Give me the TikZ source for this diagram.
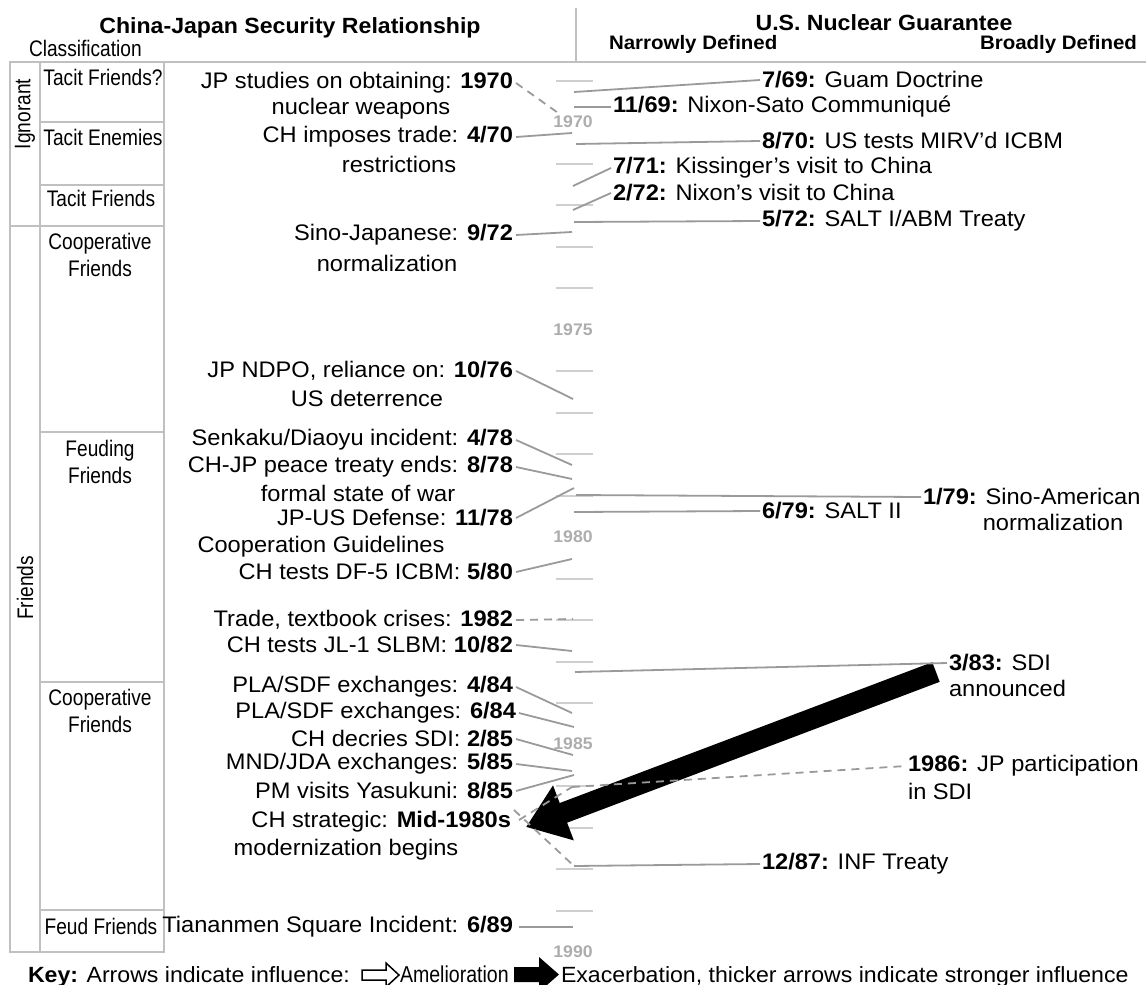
\documentclass[tikz,border=0pt]{standalone}
\usepackage{fontspec}
\setmainfont{Liberation Sans}[FakeStretch=1.05]
\newfontfamily\narrowfont{Liberation Sans}[FakeStretch=0.85]
\usetikzlibrary{arrows.meta,calc}
\definecolor{tablegray}{HTML}{C0C0C0}
\definecolor{tickgray}{HTML}{CFCFCF}
\definecolor{linkgray}{HTML}{9A9A9A}
\definecolor{yeargray}{HTML}{ADADAD}
\begin{document}
\begin{tikzpicture}[x=1pt,y=-1pt,
  every node/.style={inner sep=0pt,outer sep=0pt},
  ev/.style={font=\fontsize{22.5}{26}\selectfont},
  keytxt/.style={font=\fontsize{22}{25}\selectfont},
  lab/.style={font=\narrowfont\fontsize{22.5}{27}\selectfont,align=center},
  head/.style={font=\bfseries\fontsize{22}{25}\selectfont},
  subhead/.style={font=\bfseries\fontsize{19.5}{22}\selectfont},
  yearlab/.style={font=\bfseries\fontsize{16.8}{18}\selectfont,text=yeargray},
  tbl/.style={draw=tablegray,line width=2},
  tickline/.style={draw=tickgray,line width=2},
  link/.style={draw=linkgray,line width=1.8},
  dlink/.style={link,dash pattern=on 8pt off 6pt},
  bigarrow/.style={line width=21,-{Triangle[length=40pt,width=56pt]}}
]
\useasboundingbox (0,0) rectangle (1146,985);

% ---------- header ----------
\node[head] (title) at (290,28) {China-Japan Security Relationship};
\node[lab,anchor=west] (classif) at (29,48) {Classification};
\draw[tbl] (576,8) -- (576,62);
\draw[tbl] (10,62) -- (1146,62);
\node[head] (usng) at (884,23) {U.S. Nuclear Guarantee};
\node[subhead,anchor=west] (narrow) at (609,44) {Narrowly Defined};
\node[subhead,anchor=east] (broad) at (1137,44) {Broadly Defined};

% ---------- classification table ----------
\draw[tbl] (10,62) rectangle (164,952);
\draw[tbl] (40,62) -- (40,952);
\draw[tbl] (40,122) -- (164,122);
\draw[tbl] (40,185) -- (164,185);
\draw[tbl] (10,226) -- (164,226);
\draw[tbl] (40,432) -- (164,432);
\draw[tbl] (40,682) -- (164,682);
\draw[tbl] (40,910) -- (164,910);
\node[lab,rotate=90] (ignorant) at (25,114) {Ignorant};
\node[lab,rotate=90] (friends) at (25,588) {Friends};
\node[lab] (r1) at (103,77) {Tacit Friends?};
\node[lab] (r2) at (103,137) {Tacit Enemies};
\node[lab] (r3) at (101,198) {Tacit Friends};
\node[lab] (r4) at (100,255) {Cooperative\\Friends};
\node[lab] (r5) at (100,462) {Feuding\\Friends};
\node[lab] (r6) at (100,711) {Cooperative\\Friends};
\node[lab] (r7) at (101,926) {Feud Friends};

% ---------- timeline ----------
\foreach \yr in {1969,1971,1972,1973,1974,1976,1977,1978,1979,1981,1982,1983,1984,1986,1987,1988,1989}
  \draw[tickline] (556,{122+(\yr-1970)*41.5}) -- (593,{122+(\yr-1970)*41.5});
\node[yearlab] (y1970) at (573,122) {1970};
\node[yearlab] (y1975) at (573,330) {1975};
\node[yearlab] (y1980) at (573,537) {1980};
\node[yearlab] (y1985) at (573,744) {1985};
\node[yearlab] (y1990) at (573,952) {1990};

% timeline points
\coordinate (pJPstudy) at (561,115);
\coordinate (p0470) at (572,133);
\coordinate (p0972) at (572,232);
\coordinate (p1076) at (573,399);
\coordinate (p0478) at (572,465);
\coordinate (p0878) at (572,479);
\coordinate (p1178) at (574,488);
\coordinate (p0580) at (572,559);
\coordinate (p1982) at (573,619);
\coordinate (p1082) at (572,651);
\coordinate (p0484) at (572,713);
\coordinate (p0684) at (574,727);
\coordinate (p0285) at (573,755);
\coordinate (p0585) at (572,771);
\coordinate (p0885) at (574,775);
\coordinate (pMidA) at (572,787);
\coordinate (pMidB) at (574,866);
\coordinate (p0689) at (573,927);
\coordinate (p0769) at (574,92);
\coordinate (p1169) at (574,107);
\coordinate (p0870) at (576,144);
\coordinate (p0771) at (573,186);
\coordinate (p0272) at (573,210);
\coordinate (p0572) at (574,222);
\coordinate (p0179) at (576,495);
\coordinate (p0679) at (574,512);
\coordinate (p0383) at (575,672);
\coordinate (p1986) at (572,787);
\coordinate (p1287) at (574,866);

% ---------- left events ----------
\node[ev,anchor=east] (e1) at (513,83) {JP studies on obtaining: \textbf{1970}};
\node[ev] (e1b) at (361,109) {nuclear weapons};
\node[ev,anchor=east] (e2) at (513,137) {CH imposes trade: \textbf{4/70}};
\node[ev] (e2b) at (399,164) {restrictions};
\node[ev,anchor=east] (e3) at (513,235) {Sino-Japanese: \textbf{9/72}};
\node[ev] (e3b) at (387,263) {normalization};
\node[ev,anchor=east] (e4) at (513,371) {JP NDPO, reliance on: \textbf{10/76}};
\node[ev] (e4b) at (367,398) {US deterrence};
\node[ev,anchor=east] (e5) at (513,440) {Senkaku/Diaoyu incident: \textbf{4/78}};
\node[ev,anchor=east] (e6) at (513,467) {CH-JP peace treaty ends: \textbf{8/78}};
\node[ev] (e6b) at (358,493) {formal state of war};
\node[ev,anchor=east] (e7) at (513,518) {JP-US Defense: \textbf{11/78}};
\node[ev] (e7b) at (321,547) {Cooperation Guidelines};
\node[ev,anchor=east] (e8) at (513,572) {CH tests DF-5 ICBM: \textbf{5/80}};
\node[ev,anchor=east] (e9) at (513,620) {Trade, textbook crises: \textbf{1982}};
\node[ev,anchor=east] (e10) at (513,645) {CH tests JL-1 SLBM: \textbf{10/82}};
\node[ev,anchor=east] (e11) at (513,687) {PLA/SDF exchanges: \textbf{4/84}};
\node[ev,anchor=east] (e12) at (516,713) {PLA/SDF exchanges: \textbf{6/84}};
\node[ev,anchor=east] (e13) at (513,739) {CH decries SDI: \textbf{2/85}};
\node[ev,anchor=east] (e14) at (513,764) {MND/JDA exchanges: \textbf{5/85}};
\node[ev,anchor=east] (e15) at (513,791) {PM visits Yasukuni: \textbf{8/85}};
\node[ev,anchor=east] (e16) at (511,822) {CH strategic: \textbf{Mid-1980s}};
\node[ev] (e16b) at (346,850) {modernization begins};
\node[ev,anchor=east] (e17) at (513,927) {Tiananmen Square Incident: \textbf{6/89}};

% ---------- right events ----------
\node[ev,anchor=west] (u1) at (762,80) {\textbf{7/69:} Guam Doctrine};
\node[ev,anchor=west] (u2) at (613,107) {\textbf{11/69:} Nixon-Sato Communiqué};
\node[ev,anchor=west] (u3) at (762,141) {\textbf{8/70:} US tests MIRV’d ICBM};
\node[ev,anchor=west] (u4) at (613,168) {\textbf{7/71:} Kissinger’s visit to China};
\node[ev,anchor=west] (u5) at (613,193) {\textbf{2/72:} Nixon’s visit to China};
\node[ev,anchor=west] (u6) at (762,221) {\textbf{5/72:} SALT I/ABM Treaty};
\node[ev,anchor=west] (u7) at (923,497) {\textbf{1/79:} Sino-American};
\node[ev] (u7b) at (1053,522) {normalization};
\node[ev,anchor=west] (u8) at (762,511) {\textbf{6/79:} SALT II};
\node[ev,anchor=west] (u9) at (949,663) {\textbf{3/83:} SDI};
\node[ev,anchor=west] (u9b) at (949,688) {announced};
\node[ev,anchor=west] (u10) at (908,766) {\textbf{1986:} JP participation};
\node[ev,anchor=west] (u10b) at (908,791) {in SDI};
\node[ev,anchor=west] (u11) at (762,864) {\textbf{12/87:} INF Treaty};

% ---------- big influence arrow ----------
\coordinate (arrStart) at (936,672);
\coordinate (arrTip) at (526,827);
\draw[bigarrow] (arrStart) -- (arrTip);

% ---------- connectors ----------
\draw[dlink] ([xshift=3pt]e1.east) -- (pJPstudy);
\draw[link] ([xshift=3pt]e2.east) -- (p0470);
\draw[link] ([xshift=3pt]e3.east) -- (p0972);
\draw[link] ([xshift=3pt]e4.east) -- (p1076);
\draw[link] ([xshift=3pt]e5.east) -- (p0478);
\draw[link] ([xshift=3pt]e6.east) -- (p0878);
\draw[link] ([xshift=3pt]e7.east) -- (p1178);
\draw[link] ([xshift=3pt]e8.east) -- (p0580);
\draw[dlink] ([xshift=3pt]e9.east) -- (p1982);
\draw[link] ([xshift=3pt]e10.east) -- (p1082);
\draw[link] ([xshift=3pt]e11.east) -- (p0484);
\draw[link] ([xshift=3pt]e12.east) -- (p0684);
\draw[link] ([xshift=3pt]e13.east) -- (p0285);
\draw[link] ([xshift=3pt]e14.east) -- (p0585);
\draw[link] ([xshift=3pt]e15.east) -- (p0885);
\draw[dlink] ([xshift=8pt,yshift=2pt]e16.east) -- (pMidA);
\draw[dlink] ([xshift=3pt,yshift=12pt]e16.east) -- (pMidB);
\draw[link] ([xshift=6pt]e17.east) -- (p0689);

\draw[link] (p0769) -- ([xshift=-2pt]u1.west);
\draw[link] (p1169) -- ([xshift=-2pt]u2.west);
\draw[link] (p0870) -- ([xshift=-2pt]u3.west);
\draw[link] (p0771) -- ([xshift=-2pt]u4.west);
\draw[link] (p0272) -- ([xshift=-2pt]u5.west);
\draw[link] (p0572) -- ([xshift=-2pt]u6.west);
\draw[link] (p0179) -- ([xshift=-2pt]u7.west);
\draw[link] (p0679) -- ([xshift=-2pt]u8.west);
\draw[link] (p0383) -- ([xshift=-2pt]u9.west);
\draw[dlink] (p1986) -- ([xshift=-2pt]u10.west);
\draw[link] (p1287) -- ([xshift=-2pt]u11.west);

% ---------- key ----------
\node[keytxt,anchor=base west] (key) at (28,982) {\textbf{Key:} Arrows indicate influence:};
\draw[black,line width=1.5,fill=white] (362,970) -- (386,970) -- (386,963) -- (399,975) -- (386,987) -- (386,980) -- (362,980) -- cycle;
\node[anchor=base west,font=\narrowfont\fontsize{23}{25}\selectfont] (amel) at (400,982) {Amelioration};
\fill[black] (514,967) -- (539,967) -- (539,957) -- (559,974.5) -- (539,992) -- (539,982) -- (514,982) -- cycle;
\node[keytxt,anchor=base west] (exac) at (561,982) {Exacerbation, thicker arrows indicate stronger influence};
\end{tikzpicture}
\end{document}
